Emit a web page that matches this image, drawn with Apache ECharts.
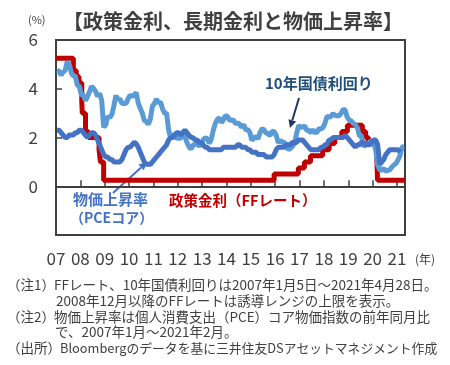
<!DOCTYPE html>
<html><head><meta charset="utf-8">
<script src="https://cdn.jsdelivr.net/npm/echarts@6/dist/echarts.min.js"></script>
<style>html,body{margin:0;padding:0;background:#fff}#c{width:450px;height:365px}</style>
</head><body><div id="c"></div>
<script>
// ---- data ----
const startYear = 2007;
const yearTicks = [2007,2008,2009,2010,2011,2012,2013,2014,2015,2016,2017,2018,2019,2020,2021];
const yTicks = [0,2,4,6];
// 10-year Treasury yield, monthly, Jan 2007 - Apr 2021
const tnx = [
4.76,4.72,4.56,4.69,4.75,5.10,5.00,4.67,4.52,4.53,4.15,4.10,
3.74,3.74,3.51,3.68,3.88,4.10,4.01,3.89,3.69,3.81,3.53,2.42,
2.52,2.87,2.82,2.93,3.29,3.72,3.56,3.59,3.40,3.39,3.40,3.59,
3.73,3.69,3.73,3.85,3.42,3.20,3.01,2.70,2.65,2.54,2.76,3.29,
3.39,3.58,3.41,3.46,3.17,3.00,3.00,2.30,1.98,2.15,2.01,1.98,
1.97,1.97,2.17,2.05,1.80,1.62,1.53,1.68,1.72,1.75,1.65,1.72,
1.91,1.98,1.96,1.76,1.93,2.30,2.58,2.74,2.81,2.62,2.72,2.90,
2.86,2.71,2.72,2.71,2.56,2.60,2.54,2.42,2.53,2.30,2.33,2.21,
1.88,1.98,2.04,1.94,2.20,2.36,2.32,2.17,2.17,2.07,2.26,2.24,
2.09,1.78,1.89,1.81,1.81,1.64,1.50,1.56,1.63,1.76,2.14,2.49,
2.43,2.42,2.48,2.30,2.30,2.19,2.32,2.21,2.20,2.36,2.35,2.40,
2.58,2.86,2.84,2.87,2.98,2.91,2.89,2.89,3.00,3.15,3.12,2.83,
2.71,2.68,2.57,2.53,2.40,2.07,2.06,1.63,1.70,1.71,1.81,1.86,
1.76,1.50,0.87,0.66,0.67,0.73,0.62,0.65,0.68,0.79,0.87,0.93,
1.08,1.26,1.61,1.64];
// Core PCE YoY, monthly, Jan 2007 - Feb 2021
const pce = [
2.3,2.3,2.2,2.1,2.0,2.0,2.1,2.1,2.1,2.2,2.2,2.3,
2.3,2.2,2.1,2.0,2.1,2.2,2.2,2.1,1.9,1.7,1.5,1.3,
1.2,1.2,1.1,1.1,1.0,1.0,1.0,1.0,1.1,1.3,1.5,1.6,
1.6,1.7,1.8,1.75,1.6,1.4,1.2,1.0,0.9,0.9,0.9,1.0,
1.1,1.2,1.3,1.4,1.5,1.6,1.7,1.9,2.0,2.0,2.1,2.2,
2.2,2.1,2.2,2.3,2.2,2.1,2.0,2.0,1.9,1.9,1.8,1.8,
1.7,1.6,1.6,1.5,1.5,1.5,1.5,1.5,1.5,1.5,1.6,1.6,
1.6,1.6,1.6,1.6,1.6,1.7,1.7,1.6,1.6,1.6,1.5,1.5,
1.4,1.4,1.4,1.3,1.3,1.3,1.3,1.2,1.2,1.2,1.2,1.3,
1.5,1.6,1.6,1.6,1.6,1.7,1.7,1.7,1.8,1.8,1.8,1.9,
1.9,1.9,1.8,1.7,1.6,1.5,1.5,1.5,1.5,1.5,1.6,1.6,
1.7,1.7,1.9,1.9,2.0,2.0,2.0,2.0,2.0,2.0,2.1,2.0,
1.9,1.8,1.7,1.6,1.7,1.7,1.8,1.8,1.7,1.7,1.7,1.8,
1.9,1.9,1.7,0.9,1.0,1.1,1.3,1.4,1.5,1.5,1.5,1.5,
1.5,1.4];
// Fed funds target (upper bound), change dates
const ffDates = ['2007-01-05','2007-09-18','2007-10-31','2007-12-11','2008-01-22','2008-01-30','2008-03-18','2008-04-30','2008-10-08','2008-10-29','2008-12-16','2015-12-16','2016-12-14','2017-03-15','2017-06-14','2017-12-13','2018-03-21','2018-06-13','2018-09-26','2018-12-19','2019-07-31','2019-09-18','2019-10-30','2020-03-03','2020-03-15','2021-04-28'];
const ffRates = [5.25,4.75,4.50,4.25,3.50,3.00,2.25,2.00,1.50,1.00,0.25,0.50,0.75,1.00,1.25,1.50,1.75,2.00,2.25,2.50,2.25,2.00,1.75,1.25,0.25,0.25];
const axisEnd = 2021.33;

// ---- build ----
function dateToYear(s){const p=s.split('-').map(Number);const d0=Date.UTC(p[0],0,1),d1=Date.UTC(p[0]+1,0,1);return p[0]+(Date.UTC(p[0],p[1]-1,p[2])-d0)/(d1-d0);}
const monthly = arr => arr.map((v,i)=>[startYear+(i+0.5)/12, v]);
const ffData = ffDates.map((d,i)=>[dateToYear(d), ffRates[i]]);

const C_TXT='#404040', FONT='"Noto Sans CJK JP","Noto Sans",sans-serif';
const chart = echarts.init(document.getElementById('c'), null, {renderer:'canvas'});
const txt = (x,y,t,size,color,weight,ls)=>({type:'text',x:x,y:y,style:{text:t,fontSize:size,fill:color,fontWeight:weight||'normal',fontFamily:FONT,verticalAlign:'middle',align:'left',letterSpacing:ls||0}});
const arrow = (x1,y1,x2,y2,color)=>{
  const a=Math.atan2(y2-y1,x2-x1), L=8, W=4;
  const bx=x2-L*Math.cos(a), by=y2-L*Math.sin(a);
  return [
    {type:'line',shape:{x1:x1,y1:y1,x2:bx,y2:by},style:{stroke:color,lineWidth:2}},
    {type:'polygon',shape:{points:[[x2,y2],[bx+W*Math.sin(a),by-W*Math.cos(a)],[bx-W*Math.sin(a),by+W*Math.cos(a)]]},style:{fill:color}}
  ];
};
const notes = [
  [7,285,'（注1）',13.5,0],[54,285,'FFレート、10年国債利回りは2007年1月5日～2021年4月28日。',13.5,0.7],
  [56,301,'2008年12月以降のFFレートは誘導レンジの上限を表示。',13.5,-0.5],
  [7,317,'（注2）',13.5,0],[54,317,'物価上昇率は個人消費支出（PCE）コア物価指数の前年同月比',13.5,0.05],
  [55,332,'で、2007年1月～2021年2月。',13.5,1.0],
  [7,348,'（出所）',13.5,0],[60,348,'Bloombergのデータを基に三井住友DSアセットマネジメント作成',12.8,-1.35]
];
const graphics = [
  txt(28,20,'(%)',11,C_TXT),
  txt(63,21,'【政策金利、長期金利と物価上昇率】',20,C_TXT,'bold'),
  txt(415,259,'(年)',12,C_TXT),
  txt(265,83,'10年国債利回り',15,'#1F4E79','bold',1.5),
  txt(73,199,'物価上昇率',15,'#4472C4','bold'),
  txt(70,218,'（PCEコア）',14,'#4472C4','bold'),
  txt(169,200,'政策金利（FFレート）',14.5,'#C00000','bold'),
  ...arrow(299,98,290,128,'#1F3864'),
  ...arrow(113,193,147,162,'#4472C4'),
  ...notes.map(n=>txt(n[0],n[1],n[2],n[3],C_TXT,'normal',n[4]))
];

chart.setOption({
  animation:false,
  textStyle:{fontFamily:FONT},
  grid:{left:56,right:45,top:40,bottom:130,show:true,borderColor:'#404040',borderWidth:2,backgroundColor:'transparent'},
  xAxis:{type:'value',min:yearTicks[0],max:axisEnd,interval:1,
    axisLine:{show:true,lineStyle:{color:'#404040',width:2}},
    axisTick:{show:true,inside:true,length:6,lineStyle:{color:'#404040',width:1.5},customValues:yearTicks.slice(1)},
    axisLabel:{show:true,margin:15,fontSize:17,color:C_TXT,fontFamily:FONT,customValues:yearTicks,formatter:v=>String(Math.round(v)%100).padStart(2,'0')},
    splitLine:{show:false}},
  yAxis:{type:'value',min:-2,max:6,interval:2,
    axisLine:{show:true,lineStyle:{color:'#404040',width:2}},
    axisTick:{show:true,inside:true,length:6,lineStyle:{color:'#404040',width:1.5}},
    axisLabel:{margin:18,fontSize:17,color:C_TXT,fontFamily:FONT,formatter:v=>yTicks.includes(v)?String(v):''},
    splitLine:{show:false}},
  series:[
    {type:'line',data:ffData,step:'end',showSymbol:false,lineStyle:{color:'#C00000',width:5},z:2},
    {type:'line',data:monthly(tnx),showSymbol:false,lineStyle:{color:'#5B9BD5',width:5},z:3},
    {type:'line',data:monthly(pce),showSymbol:false,lineStyle:{color:'#4472C4',width:5},z:4}
  ],
  graphic:graphics
});
</script></body></html>
